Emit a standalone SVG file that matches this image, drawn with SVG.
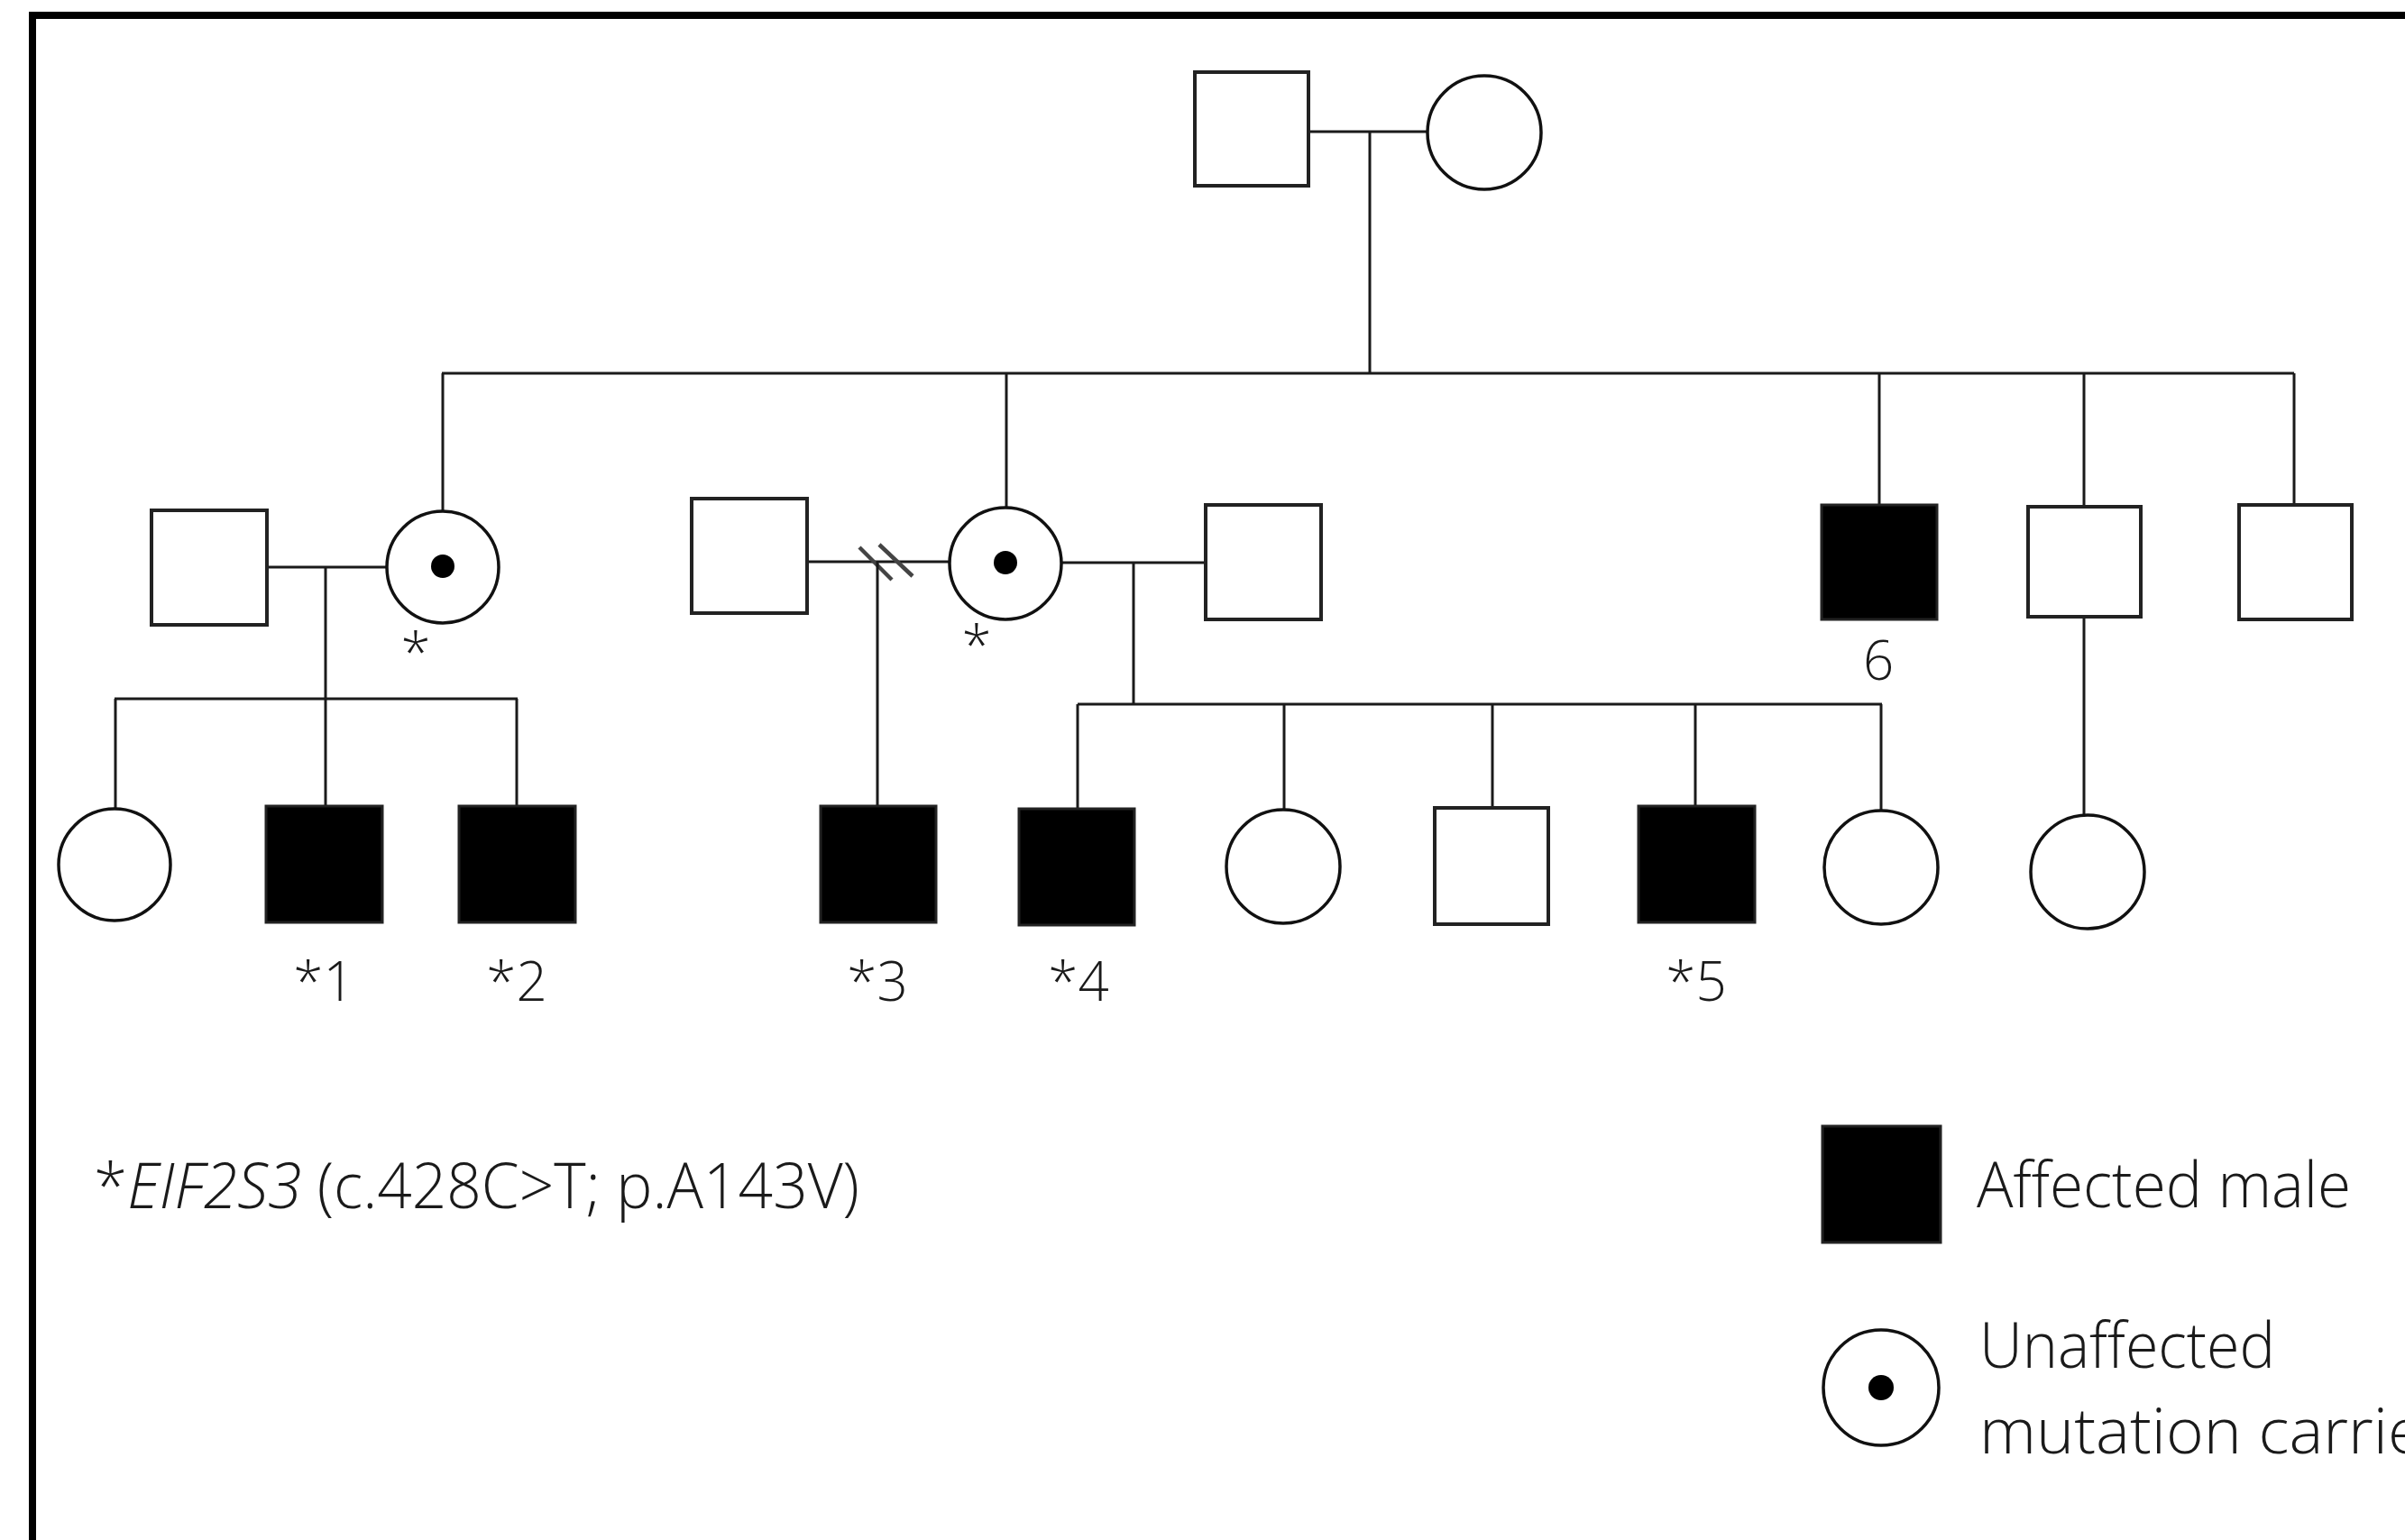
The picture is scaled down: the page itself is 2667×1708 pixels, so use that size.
<svg xmlns="http://www.w3.org/2000/svg" width="2667" height="1708" viewBox="0 0 2667 1708">
<style>
.m{fill:#fff;stroke:#222;stroke-width:4}
.a{fill:#000;stroke:#222;stroke-width:3}
.f{fill:#fff;stroke:#111;stroke-width:3.5}
.dot{fill:#000}
.ln{stroke:#1a1a1a;stroke-width:3;fill:none}
.dv{stroke:#444;stroke-width:4.5;fill:none}
.t{font-family:"Open Sans","Liberation Sans",sans-serif;font-weight:300;fill:#1a1a1a}
.lab{font-size:60px;text-anchor:middle}
.leg{font-size:70px}
</style>
<rect x="0" y="0" width="2667" height="1708" fill="#fff"/>
<rect x="36" y="17" width="2750" height="1800" fill="none" stroke="#000" stroke-width="8"/>
<g id="connectors">
<line class="ln" x1="1451" y1="146" x2="1583" y2="146"/>
<line class="ln" x1="1519" y1="146" x2="1519" y2="414"/>
<line class="ln" x1="490" y1="414" x2="2544" y2="414"/>
<line class="ln" x1="491" y1="414" x2="491" y2="566"/>
<line class="ln" x1="1116" y1="414" x2="1116" y2="563"/>
<line class="ln" x1="2084" y1="414" x2="2084" y2="559"/>
<line class="ln" x1="2311" y1="414" x2="2311" y2="562"/>
<line class="ln" x1="2544" y1="414" x2="2544" y2="559"/>
<line class="ln" x1="296" y1="629" x2="429" y2="629"/>
<line class="ln" x1="361" y1="629" x2="361" y2="775"/>
<line class="ln" x1="127" y1="775" x2="574" y2="775"/>
<line class="ln" x1="128" y1="775" x2="128" y2="896"/>
<line class="ln" x1="361" y1="775" x2="361" y2="894"/>
<line class="ln" x1="573" y1="775" x2="573" y2="894"/>
<line class="ln" x1="895" y1="623" x2="1053" y2="623"/>
<line class="dv" x1="953" y1="607" x2="989" y2="643"/>
<line class="dv" x1="975" y1="604" x2="1012" y2="639"/>
<line class="ln" x1="973" y1="623" x2="973" y2="894"/>
<line class="ln" x1="1177" y1="624" x2="1337" y2="624"/>
<line class="ln" x1="1257" y1="624" x2="1257" y2="781"/>
<line class="ln" x1="1195" y1="781" x2="2087" y2="781"/>
<line class="ln" x1="1195" y1="781" x2="1195" y2="897"/>
<line class="ln" x1="1424" y1="781" x2="1424" y2="898"/>
<line class="ln" x1="1655" y1="781" x2="1655" y2="896"/>
<line class="ln" x1="1880" y1="781" x2="1880" y2="894"/>
<line class="ln" x1="2086" y1="781" x2="2086" y2="899"/>
<line class="ln" x1="2311" y1="684" x2="2311" y2="904"/>
</g>
<g id="I-1"><rect class="m" x="1325" y="80" width="126" height="126"/></g>
<g id="I-2"><circle class="f" cx="1646" cy="147" r="63"/></g>
<g id="II-1"><rect class="m" x="168" y="566" width="128" height="127"/></g>
<g id="II-2"><circle class="f" cx="491" cy="629" r="62"/><circle class="dot" cx="491" cy="628" r="13"/><text class="t lab" x="461" y="745">*</text></g>
<g id="II-3"><rect class="m" x="767" y="553" width="128" height="127"/></g>
<g id="II-4"><circle class="f" cx="1115" cy="625" r="62"/><circle class="dot" cx="1115" cy="624" r="13"/><text class="t lab" x="1083" y="737">*</text></g>
<g id="II-5"><rect class="m" x="1337" y="560" width="128" height="127"/></g>
<g id="II-6"><rect class="a" x="2020" y="560" width="128" height="127"/><text class="t lab" x="2083" y="754">6</text></g>
<g id="II-7"><rect class="m" x="2249" y="562" width="125" height="122"/></g>
<g id="II-8"><rect class="m" x="2483" y="560" width="125" height="127"/></g>
<g id="III-1"><circle class="f" cx="127" cy="959" r="62"/></g>
<g id="III-2"><rect class="a" x="295" y="894" width="129" height="129"/><text class="t lab" x="359" y="1110">*1</text></g>
<g id="III-3"><rect class="a" x="509" y="894" width="129" height="129"/><text class="t lab" x="573" y="1110">*2</text></g>
<g id="III-4"><rect class="a" x="910" y="894" width="128" height="129"/><text class="t lab" x="973" y="1110">*3</text></g>
<g id="III-5"><rect class="a" x="1130" y="897" width="128" height="129"/><text class="t lab" x="1196" y="1110">*4</text></g>
<g id="III-6"><circle class="f" cx="1423" cy="961" r="63"/></g>
<g id="III-7"><rect class="m" x="1591" y="896" width="126" height="129"/></g>
<g id="III-8"><rect class="a" x="1817" y="894" width="129" height="129"/><text class="t lab" x="1881" y="1110">*5</text></g>
<g id="III-9"><circle class="f" cx="2086" cy="962" r="63"/></g>
<g id="III-10"><circle class="f" cx="2315" cy="967" r="63"/></g>
<g id="note"><text class="t leg" x="104" y="1340" textLength="849" lengthAdjust="spacingAndGlyphs">*<tspan font-style="italic">EIF2S3</tspan> (c.428C&gt;T; p.A143V)</text></g>
<g id="legend-affected"><rect class="a" x="2021" y="1249" width="131" height="129"/><text class="t leg" x="2192" y="1339" textLength="415" lengthAdjust="spacingAndGlyphs">Affected male</text></g>
<g id="legend-carrier"><circle class="f" cx="2086" cy="1539" r="64"/><circle class="dot" cx="2086" cy="1539" r="14"/><text class="t leg" x="2195" y="1517" textLength="328" lengthAdjust="spacingAndGlyphs">Unaffected</text><text class="t leg" x="2195" y="1612" textLength="520" lengthAdjust="spacingAndGlyphs">mutation carrier</text></g>
</svg>
